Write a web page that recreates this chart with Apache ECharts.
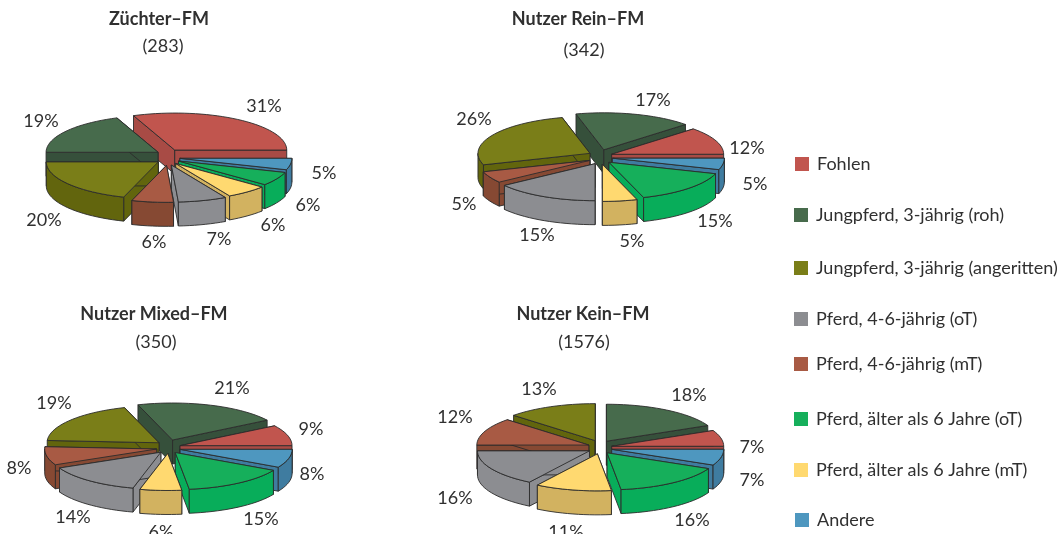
<!DOCTYPE html>
<html><head><meta charset="utf-8">
<style>html,body{margin:0;padding:0;background:#fff}#c{width:1057px;height:534px}</style>
<script src="https://cdn.jsdelivr.net/npm/echarts@6/dist/echarts.min.js"></script>
</head><body><div id="c"></div>
<script>
// ---- data ----
const panelTitles = ['Züchter–FM', 'Nutzer Rein–FM', 'Nutzer Mixed–FM', 'Nutzer Kein–FM'];
const panelCounts = ['(283)', '(342)', '(350)', '(1576)'];
const categories = ['Fohlen', 'Jungpferd, 3-jährig (roh)', 'Jungpferd, 3-jährig (angeritten)', 'Pferd, 4-6-jährig (oT)', 'Pferd, 4-6-jährig (mT)', 'Pferd, älter als 6 Jahre (oT)', 'Pferd, älter als 6 Jahre (mT)', 'Andere'];
const fohlen      = [31, 12, 9, 7];
const jungRoh     = [19, 17, 21, 18];
const jungAng     = [20, 26, 19, 13];
const pferdOT     = [7, 15, 14, 16];
const pferdMT     = [6, 5, 8, 12];
const aelterOT    = [6, 15, 15, 16];
const aelterMT    = [6, 5, 6, 11];
const andere      = [5, 5, 8, 7];
const seriesValues = [fohlen, jungRoh, jungAng, pferdOT, pferdMT, aelterOT, aelterMT, andere];
// order of the slices round each pie, counter-clockwise from the end of Fohlen
const sliceOrder = [0, 1, 2, 4, 3, 6, 5, 7];

// ---- styles and layout ----
const topColors  = ['#c1554e', '#476b4c', '#7a7e18', '#8c8d91', '#a85a44', '#16af5b', '#ffd970', '#4e97bf'];
const wallColors = ['#a84b45', '#36503b', '#62650d', '#8c8d91', '#864933', '#08ad5a', '#d2b260', '#3f7ca0'];
const panelCenters = [[168, 157], [600.5, 157], [168.5, 448], [600, 448]];
const explodeBack  = [8.4, 7.5, 8.5, 8];
const explodeFront = [8.4, 7.5, 5.5, 6];
const radiusX = 112, radiusY = 37, depth = 24, explodeX = 12;
const titleAnchors = [[159, 20], [578, 20], [154, 315], [583, 315]];
const countAnchors = [[163, 47], [584, 51], [156, 343], [584, 343]];
const legendTops = [155, 206, 259, 310, 355, 410, 461, 511];
const legendLefts = [795, 794, 794, 794, 794, 794, 794, 795];
// label centres, per panel, in category order
const labelAnchors = [
  [[264,106],[41,121],[44,220],[219,239],[154,242],[308,205],[273,225],[324,173]],
  [[747,148],[653,100],[474,119],[537,235],[464,204],[715,221],[632,241],[755,184]],
  [[311,429],[232,388],[54,403],[73,517],[19,468],[261,519],[161,532],[312,474]],
  [[752,447],[689,395],[539,389],[455,498],[455,417],[692,520],[566,532],[752,480]]
];

const FONT = 'Lato, "Noto Sans", sans-serif';
const rad = d => d * Math.PI / 180;

// angle: degrees clockwise from north. Fohlen ends at east; the rest run counter-clockwise.
const geometry = panelTitles.map((_, p) => {
  const total = seriesValues.reduce((s, v) => s + v[p], 0);
  let end = 90;
  const slices = [];
  sliceOrder.forEach(c => {
    const start = end - seriesValues[c][p] / total * 360;
    const mid = (start + end) / 2;
    const cosm = Math.cos(rad(mid));
    const apex = [panelCenters[p][0] + explodeX * Math.sin(rad(mid)),
                  panelCenters[p][1] - (cosm > 0 ? explodeBack[p] : explodeFront[p]) * cosm];
    slices[c] = { c, start, end, mid, apex };
    end = start;
  });
  slices.slice().sort((a, b) => a.apex[1] - b.apex[1]).forEach((g, i) => g.rank = i);
  return slices;
});

function rim(g, a) { return [g.apex[0] + radiusX * Math.sin(rad(a)), g.apex[1] - radiusY * Math.cos(rad(a))]; }
function arc(g, a0, a1) {
  const n = Math.max(2, Math.ceil((a1 - a0) / 3)), pts = [];
  for (let i = 0; i <= n; i++) pts.push(rim(g, a0 + (a1 - a0) * i / n));
  return pts;
}
const down = pt => [pt[0], pt[1] + depth];

function renderSlice(params, api) {
  const p = params.dataIndex, c = params.seriesIndex, g = geometry[p][c];
  const base = 10 + g.rank * 10;
  const stroke = '#2b2b2b';
  const poly = (points, fill, z2) => ({ type: 'polygon', z2, shape: { points },
    style: { fill, stroke, lineWidth: 0.9, lineJoin: 'round' } });
  const kids = [];
  const rs = rim(g, g.start), re = rim(g, g.end);
  kids.push(poly([g.apex, rs, down(rs), down(g.apex)], wallColors[c], base));
  kids.push(poly([g.apex, re, down(re), down(g.apex)], wallColors[c], base + 1));
  for (let k = -1; k <= 1; k++) {
    const a0 = Math.max(g.start, 90 + 360 * k), a1 = Math.min(g.end, 270 + 360 * k);
    if (a1 > a0) {
      const top = arc(g, a0, a1);
      kids.push(poly(top.concat(top.map(down).reverse()), wallColors[c], base + 2));
    }
  }
  kids.push(poly([g.apex].concat(arc(g, g.start, g.end)), topColors[c], base + 3));
  const la = labelAnchors[p][c];
  kids.push({ type: 'text', z2: 500, style: { text: api.value(1) + '%', x: la[0], y: la[1],
    align: 'center', verticalAlign: 'middle', fill: '#303030', font: '18px ' + FONT } });
  return { type: 'group', children: kids };
}

const chart = echarts.init(document.getElementById('c'), null, { renderer: 'canvas' });
chart.setOption({
  animation: false,
  backgroundColor: '#fff',
  title: panelTitles.map((t, i) => ({
    text: t, textAlign: 'center',
    left: titleAnchors[i][0], top: titleAnchors[i][1] - 10, padding: 0,
    textStyle: { fontFamily: FONT, fontSize: 18, fontWeight: 'bold', color: '#303030' }
  })).concat(panelCounts.map((t, i) => ({
    text: t, textAlign: 'center',
    left: countAnchors[i][0], top: countAnchors[i][1] - 10, padding: 0,
    textStyle: { fontFamily: FONT, fontSize: 18, fontWeight: 'normal', color: '#303030' }
  }))),
  legend: categories.map((name, i) => ({
    data: [name], orient: 'vertical', left: legendLefts[i], top: legendTops[i], padding: 0,
    itemWidth: 14, itemHeight: 14, icon: 'rect', selectedMode: false,
    itemStyle: { borderWidth: 0 },
    textStyle: { fontFamily: FONT, fontSize: 18, color: '#303030', padding: [3, 0, 0, 3] }
  })),
  series: categories.map((name, c) => ({
    type: 'custom', name, coordinateSystem: 'none', silent: true,
    itemStyle: { color: topColors[c] },
    renderItem: renderSlice,
    data: seriesValues[c].map((v, p) => [p, v])
  }))
});
</script></body></html>
